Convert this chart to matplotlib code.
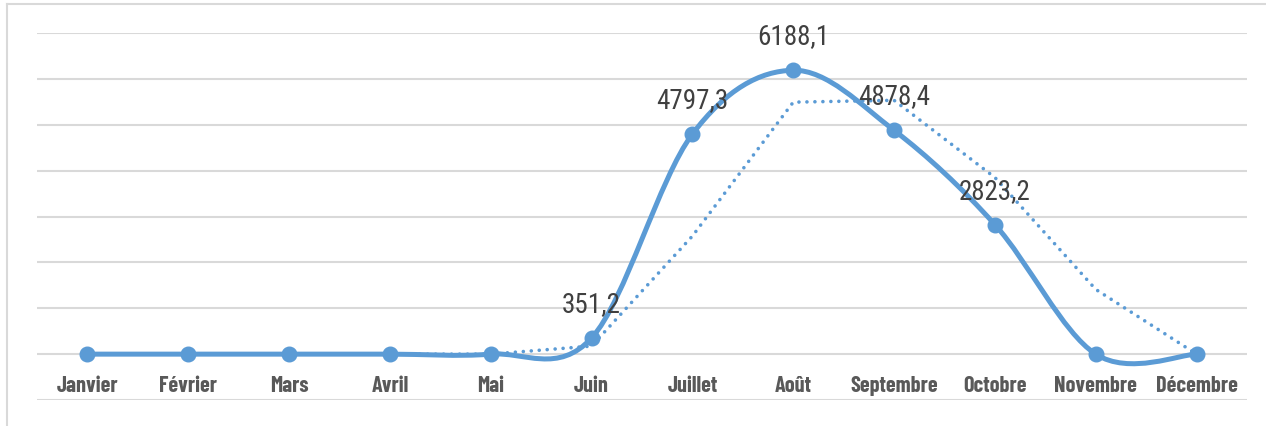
import matplotlib.pyplot as plt
from matplotlib.path import Path
from matplotlib.patches import PathPatch
from matplotlib.lines import Line2D

mois = ["Janvier", "Février", "Mars", "Avril", "Mai", "Juin", "Juillet",
        "Août", "Septembre", "Octobre", "Novembre", "Décembre"]
valeurs = [0, 0, 0, 0, 0, 351.2, 4797.3, 6188.1, 4878.4, 2823.2, 0, 0]
# moyenne mobile (2 périodes), à partir de Février
tendance = [0, 0, 0, 0, 175.6, 2574.3, 5492.7, 5533.3, 3850.8, 1411.6, 0]

bleu = "#5B9BD5"
gris = "#D9D9D9"
police_axe = ["Barlow Condensed", "DejaVu Sans"]
police_val = ["Roboto Condensed", "DejaVu Sans"]


def courbe_lisse(xs, ys):
    # segments de Bézier type Catmull-Rom (lissage façon Excel)
    pts = list(zip(xs, ys))
    n = len(pts)
    verts = [pts[0]]
    codes = [Path.MOVETO]
    for i in range(n - 1):
        p0 = pts[i - 1] if i > 0 else pts[i]
        p1 = pts[i]
        p2 = pts[i + 1]
        p3 = pts[i + 2] if i + 2 < n else pts[i + 1]
        c1 = (p1[0] + (p2[0] - p0[0]) / 6, p1[1] + (p2[1] - p0[1]) / 6)
        c2 = (p2[0] - (p3[0] - p1[0]) / 6, p2[1] - (p3[1] - p1[1]) / 6)
        verts += [c1, c2, p2]
        codes += [Path.CURVE4] * 3
    return Path(verts, codes)


fig = plt.figure(figsize=(12.66, 4.26), dpi=100)
ax = fig.add_axes([0.0292, 0.061, 0.9558, 0.8615])

x = list(range(len(mois)))
ax.set_xlim(-0.5, len(mois) - 0.5)
ax.set_ylim(-1000, 7000)
ax.set_yticks(range(-1000, 7001, 1000))
ax.yaxis.grid(True, color=gris, linewidth=1.5)
ax.set_axisbelow(True)
for s in ax.spines.values():
    s.set_visible(False)
ax.tick_params(axis="both", length=0)
ax.set_yticklabels([])

ligne = PathPatch(courbe_lisse(x, valeurs), fill=False, edgecolor=bleu,
                  linewidth=3.6, capstyle="round", joinstyle="round", zorder=3)
ax.add_patch(ligne)
ax.plot(x, valeurs, linestyle="none", marker="o", markersize=10.5,
        color=bleu, zorder=4)

# courbe de tendance (moyenne mobile), segments droits en pointillés
ax.plot(x[1:], tendance, color=bleu, linewidth=2.6,
        linestyle=(0, (0.01, 2.2)), dash_capstyle="round", zorder=5)

ax.set_xticks(x)
ax.set_xticklabels(mois, fontfamily=police_axe, fontweight="bold",
                   fontsize=16, color="#595959")
ax.tick_params(axis="x", pad=-17.5)

for xi, v in zip(x, valeurs):
    if v == 0:
        continue
    ax.annotate(f"{v:.1f}".replace(".", ","), (xi, v), xytext=(0, 24),
                textcoords="offset points", ha="center", va="center",
                fontsize=19.5, color="#404040", fontfamily=police_val, zorder=6)

# cadre de la zone du graphique (haut et gauche)
fig.add_artist(Line2D([7 / 1266, 1], [1 - 3.5 / 426, 1 - 3.5 / 426],
                      color=gris, linewidth=1.5, transform=fig.transFigure))
fig.add_artist(Line2D([7.5 / 1266, 7.5 / 1266], [0, 1 - 3.5 / 426],
                      color=gris, linewidth=1.5, transform=fig.transFigure))

fig.savefig("out.png", dpi=100)
